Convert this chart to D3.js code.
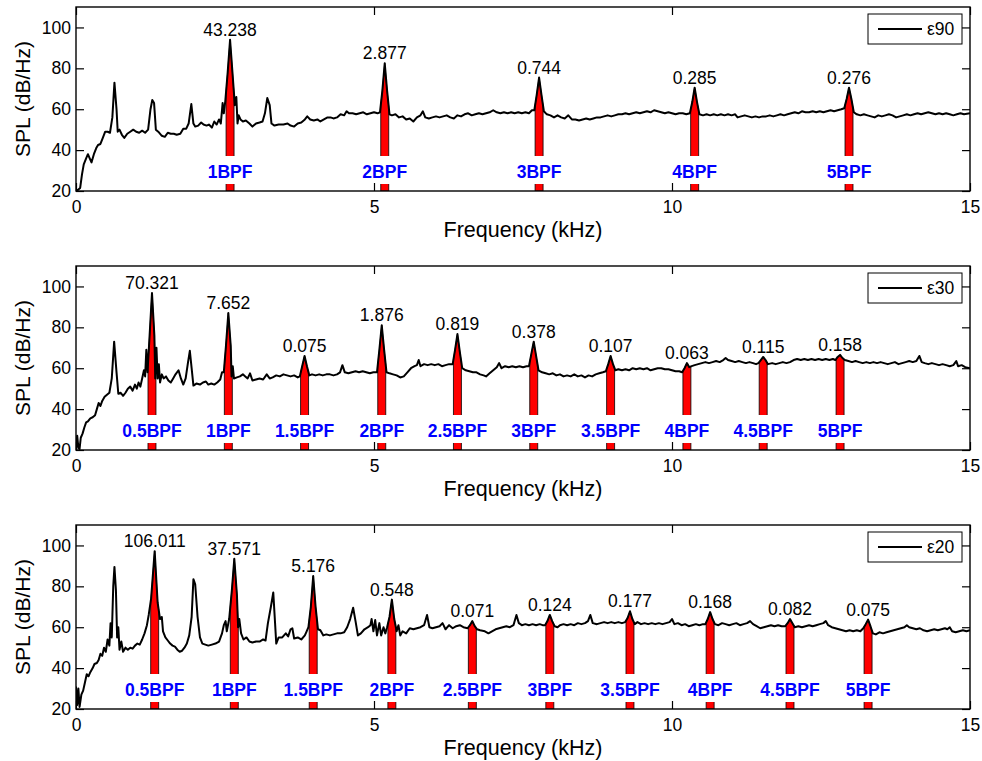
<!DOCTYPE html>
<html>
<head>
<meta charset="utf-8">
<script src="https://cdn.jsdelivr.net/npm/d3@7"></script>
<style>
  body { margin: 0; background: #fff; }
  text { font-family: Arial, "Liberation Sans", Helvetica, sans-serif; }
</style>
</head>
<body>
<div id="chart"></div>
<script>
// ---- data ----
const legendNames = ["ε90", "ε30", "ε20"];

const harmonics90 = ["1BPF", "2BPF", "3BPF", "4BPF", "5BPF"];
const harmonicsHalf = ["0.5BPF", "1BPF", "1.5BPF", "2BPF", "2.5BPF", "3BPF", "3.5BPF", "4BPF", "4.5BPF", "5BPF"];

const bpf90 = [2.585, 5.18, 7.77, 10.38, 12.97];
const bpf30 = [1.275, 2.556, 3.835, 5.13, 6.40, 7.68, 8.97, 10.25, 11.53, 12.82];
const bpf20 = [1.32, 2.656, 3.98, 5.30, 6.65, 7.95, 9.295, 10.64, 11.98, 13.29];

const peakText90 = ["43.238", "2.877", "0.744", "0.285", "0.276"];
const peakText30 = ["70.321", "7.652", "0.075", "1.876", "0.819", "0.378", "0.107", "0.063", "0.115", "0.158"];
const peakText20 = ["106.011", "37.571", "5.176", "0.548", "0.071", "0.124", "0.177", "0.168", "0.082", "0.075"];

const xTicks = [0, 5, 10, 15];
const yTicks = [20, 40, 60, 80, 100];

// [frequency kHz, SPL dB/Hz]
const spl90 = [[0.00,20],[0.03,20.5],[0.07,21.5],[0.10,28],[0.13,33],[0.17,36],[0.20,38],[0.23,36],[0.26,34],[0.30,38],[0.34,41],[0.37,42.5],[0.41,43],[0.45,46],[0.49,49],[0.53,49],[0.57,48.5],[0.61,56],[0.645,73],[0.68,60],[0.70,49],[0.73,50],[0.77,47.5],[0.81,46],[0.86,48],[0.91,49],[0.96,50],[1.01,49],[1.06,48.5],[1.11,49.5],[1.16,48.5],[1.21,50],[1.25,60],[1.28,64.5],[1.31,63],[1.34,50],[1.38,49],[1.44,47],[1.49,46.5],[1.54,48.5],[1.59,48],[1.64,48],[1.69,47.5],[1.75,48],[1.80,50.5],[1.85,50.5],[1.89,53],[1.935,62.5],[1.97,53],[2.00,51.5],[2.05,52],[2.10,53.5],[2.14,52.5],[2.19,52],[2.23,52.5],[2.28,51],[2.32,54],[2.36,52.5],[2.40,55],[2.43,53],[2.46,63],[2.48,58],[2.505,64],[2.545,78],[2.585,94],[2.625,78],[2.665,62],[2.69,66],[2.71,53],[2.73,57],[2.76,55],[2.80,54],[2.85,54.5],[2.91,53],[2.96,51.5],[3.02,53],[3.08,53.5],[3.13,54],[3.17,58],[3.21,65.5],[3.25,62],[3.28,53],[3.33,52],[3.40,52.5],[3.48,52.5],[3.55,53],[3.60,52],[3.66,51.5],[3.72,53],[3.78,53.5],[3.84,55],[3.88,56.5],[3.93,55],[3.99,54.5],[4.05,55],[4.10,54],[4.16,55],[4.22,56],[4.27,56],[4.32,55.5],[4.38,56],[4.44,57.5],[4.50,57],[4.54,59],[4.58,58],[4.64,58],[4.70,57.5],[4.76,58],[4.82,58.5],[4.88,57.5],[4.94,58],[5.00,58.5],[5.06,58],[5.10,58.5],[5.14,69],[5.18,82.5],[5.22,69],[5.26,57.5],[5.30,57],[5.36,57.5],[5.42,56],[5.48,56.5],[5.54,55],[5.60,55.5],[5.66,54],[5.72,56],[5.78,57],[5.82,59],[5.86,56],[5.92,55.5],[5.98,56],[6.04,56.5],[6.10,56],[6.16,56.5],[6.22,57],[6.28,56],[6.34,55.5],[6.40,57],[6.46,56.5],[6.52,57.5],[6.58,58],[6.64,57],[6.70,57.5],[6.76,58],[6.82,57.5],[6.88,58],[6.94,58.5],[7.00,59.5],[7.06,58.5],[7.12,58],[7.18,58.5],[7.24,58],[7.30,58.5],[7.36,58],[7.42,58.5],[7.48,58],[7.54,58.5],[7.60,58],[7.65,59.5],[7.69,59.5],[7.73,67],[7.77,75.5],[7.81,67],[7.85,59],[7.90,57.5],[7.96,57],[8.02,56],[8.08,57],[8.14,56],[8.20,55.5],[8.26,57],[8.32,55],[8.38,55],[8.44,54.5],[8.50,55],[8.56,55.5],[8.62,55],[8.68,55.5],[8.74,56],[8.80,56],[8.86,56.5],[8.92,57],[8.98,56.5],[9.04,57],[9.10,57.5],[9.16,57.5],[9.22,58],[9.28,57.5],[9.34,58],[9.40,58.5],[9.46,58],[9.52,58.5],[9.58,59],[9.64,58.5],[9.70,59.5],[9.76,59],[9.82,58.5],[9.88,58],[9.94,58.5],[10.00,58],[10.06,57.5],[10.12,58],[10.18,58],[10.24,57.5],[10.30,58],[10.34,63.5],[10.38,70.5],[10.42,63.5],[10.46,57.5],[10.52,57],[10.58,57.5],[10.64,57],[10.70,57.5],[10.76,57],[10.82,57.5],[10.88,57],[10.94,57.5],[11.00,57],[11.06,57.5],[11.10,56],[11.16,56.5],[11.22,57],[11.28,56.5],[11.34,56],[11.40,56.5],[11.46,56],[11.52,56.5],[11.58,56.5],[11.64,57],[11.70,56.5],[11.76,57],[11.82,57.5],[11.88,57],[11.94,57.5],[12.00,58],[12.06,58.5],[12.12,58],[12.18,59],[12.24,58.5],[12.30,58.5],[12.36,59],[12.42,58.5],[12.48,59],[12.54,58.5],[12.60,59],[12.66,59.5],[12.72,59],[12.78,59.5],[12.84,60],[12.89,60.5],[12.93,65],[12.97,70.5],[13.01,65],[13.05,58.5],[13.10,57.5],[13.16,57],[13.22,57.5],[13.28,57],[13.34,56.5],[13.40,56],[13.46,57],[13.52,56.5],[13.58,57],[13.64,57.5],[13.70,57],[13.76,56],[13.82,56.5],[13.88,57],[13.94,57.5],[14.00,57],[14.06,57.5],[14.12,58],[14.18,57.5],[14.24,58],[14.30,58.5],[14.36,58],[14.42,57.5],[14.48,58],[14.54,57.5],[14.60,58],[14.66,57.5],[14.72,57],[14.78,57.5],[14.84,58],[14.90,57.5],[15.00,58]];

const spl30 = [[0.00,20],[0.02,27],[0.04,21],[0.06,20.5],[0.08,26],[0.11,28],[0.14,31],[0.17,33.5],[0.20,34],[0.24,35.5],[0.28,36],[0.32,37],[0.35,40],[0.38,43],[0.41,41.5],[0.44,44],[0.48,46],[0.52,47],[0.56,48],[0.60,55],[0.64,73],[0.68,58],[0.71,47.5],[0.75,48],[0.79,46.5],[0.83,48],[0.87,50],[0.91,51],[0.95,49],[0.99,52],[1.02,50],[1.05,53],[1.08,51],[1.11,55],[1.14,59],[1.16,56],[1.18,69],[1.20,58],[1.235,76],[1.275,96.8],[1.315,76],[1.33,55],[1.35,70],[1.37,55],[1.39,62],[1.41,53],[1.44,57],[1.47,55],[1.51,56],[1.55,54],[1.59,53],[1.63,55],[1.67,57],[1.72,59],[1.76,55],[1.80,52],[1.84,55],[1.88,63],[1.91,68.5],[1.94,60],[1.97,51.5],[2.02,52.5],[2.08,52],[2.13,53],[2.18,53.5],[2.22,52],[2.27,52.5],[2.32,52],[2.37,53],[2.42,54.5],[2.45,58],[2.48,58],[2.516,71],[2.556,87],[2.596,71],[2.61,56],[2.63,61],[2.65,55],[2.70,55.5],[2.75,56],[2.80,57],[2.84,56],[2.88,55],[2.92,57.5],[2.96,54],[3.02,54.5],[3.08,55],[3.14,54.5],[3.20,57],[3.25,55],[3.30,55.5],[3.36,56.5],[3.42,56],[3.48,57],[3.54,56.5],[3.60,56],[3.66,56.5],[3.72,55.5],[3.755,56],[3.795,61],[3.835,66],[3.875,61],[3.915,56.5],[3.96,57],[4.02,56.5],[4.08,57],[4.14,56.5],[4.20,57],[4.26,57],[4.32,56.5],[4.38,57],[4.43,58],[4.47,61.5],[4.51,58],[4.57,57.5],[4.63,58],[4.69,58.5],[4.75,58],[4.81,58.5],[4.87,58],[4.93,57.5],[4.99,58],[5.05,58],[5.09,69],[5.13,81],[5.17,69],[5.21,58],[5.26,57.5],[5.32,57],[5.38,56.5],[5.44,55.5],[5.50,56],[5.56,58],[5.62,60],[5.68,61],[5.72,61.5],[5.75,64],[5.78,61],[5.84,62],[5.90,61.5],[5.96,62],[6.02,61.5],[6.08,62],[6.14,61],[6.20,61.5],[6.26,62],[6.32,62],[6.36,69],[6.40,76.7],[6.44,68],[6.48,60],[6.54,59],[6.60,58.5],[6.66,58],[6.72,58],[6.78,57],[6.84,56.5],[6.88,56],[6.94,57.5],[7.00,59],[7.06,60.5],[7.10,62.5],[7.14,60],[7.20,61],[7.26,60.5],[7.32,61],[7.38,60.5],[7.44,61],[7.50,60.5],[7.56,61],[7.60,61],[7.64,67],[7.68,73],[7.72,66],[7.76,59],[7.82,58],[7.88,57.5],[7.94,57],[8.00,57.5],[8.06,56.5],[8.12,57],[8.18,56],[8.24,56.5],[8.30,56],[8.36,57],[8.42,56],[8.48,56.5],[8.54,55.5],[8.60,56.5],[8.66,56],[8.72,57],[8.78,57.5],[8.84,58],[8.89,58.5],[8.93,62],[8.97,66],[9.01,62],[9.05,59],[9.10,59.5],[9.16,59],[9.22,59.5],[9.28,59],[9.34,60],[9.40,59.5],[9.46,60],[9.52,59.5],[9.58,60],[9.64,59],[9.70,59.5],[9.76,60],[9.82,60],[9.88,59.5],[9.94,59.5],[10.00,59],[10.06,58.5],[10.12,58.5],[10.17,58],[10.21,60],[10.25,62.5],[10.29,60.5],[10.33,61],[10.38,61.5],[10.44,62],[10.50,62.5],[10.56,63],[10.62,62.5],[10.68,63],[10.74,63.5],[10.80,63],[10.86,64],[10.90,65],[10.94,64],[11.00,63.5],[11.06,63],[11.12,63.5],[11.18,63],[11.24,62.5],[11.30,63],[11.36,62.5],[11.41,62],[11.45,62.5],[11.49,64],[11.53,65.5],[11.57,64],[11.61,62],[11.68,62.5],[11.74,62],[11.80,62.5],[11.86,63],[11.92,62.5],[11.98,63],[12.04,64],[12.10,64.5],[12.16,64],[12.22,64.5],[12.28,64],[12.34,64.5],[12.40,64],[12.46,64.5],[12.52,64],[12.58,64.5],[12.64,64],[12.70,64.5],[12.74,64],[12.78,65.5],[12.82,66.5],[12.86,65],[12.90,64],[12.96,63.5],[13.02,63],[13.08,63.5],[13.14,63],[13.20,62.5],[13.26,63],[13.32,62.5],[13.38,63],[13.44,62.5],[13.50,63],[13.56,62.5],[13.62,62],[13.68,62.5],[13.74,63],[13.80,62],[13.86,62.5],[13.92,63],[13.98,63.5],[14.04,63],[14.10,63.5],[14.15,66],[14.19,63],[14.24,62.5],[14.30,62],[14.36,62.5],[14.42,62],[14.48,61.5],[14.54,62],[14.60,61.5],[14.66,61],[14.72,61.5],[14.77,63.5],[14.80,61],[14.86,61.5],[14.92,60.5],[15.00,60]];

const spl20 = [[0.00,31],[0.02,22],[0.04,30],[0.06,21],[0.09,27],[0.12,29],[0.15,33],[0.18,37],[0.21,36],[0.24,38],[0.28,40],[0.31,42],[0.35,42.5],[0.38,44],[0.41,47],[0.44,46],[0.47,50],[0.50,48],[0.53,54],[0.56,51],[0.58,62],[0.60,55],[0.625,80],[0.645,89.5],[0.67,78],[0.69,55],[0.71,60],[0.73,49],[0.76,53],[0.79,48],[0.83,50],[0.87,49],[0.91,50],[0.95,49.5],[0.99,51],[1.03,52],[1.07,51.5],[1.11,54],[1.15,57],[1.19,61],[1.22,66],[1.26,74],[1.32,97.2],[1.37,72],[1.41,64],[1.44,65],[1.46,58],[1.50,55],[1.54,53.5],[1.58,52],[1.62,51],[1.66,50.5],[1.70,49],[1.74,48],[1.78,48.5],[1.82,50],[1.86,52],[1.90,56],[1.94,65],[1.97,83.5],[2.00,81],[2.04,65],[2.08,55],[2.12,52],[2.17,51.5],[2.22,51],[2.28,51.5],[2.34,52],[2.40,53],[2.45,57],[2.48,61],[2.51,63],[2.53,58],[2.57,64],[2.615,78],[2.656,93.5],[2.70,76],[2.72,60],[2.74,64],[2.77,57],[2.81,54],[2.86,55],[2.91,53],[2.96,52.5],[3.02,53],[3.08,53],[3.14,54],[3.18,53.5],[3.22,62],[3.27,70],[3.31,77],[3.34,62],[3.36,52],[3.40,55],[3.46,55],[3.52,57],[3.56,55.5],[3.60,59],[3.63,59.5],[3.66,54.5],[3.72,55],[3.78,54],[3.84,56],[3.87,58],[3.90,60],[3.94,70],[3.98,85],[4.02,70],[4.06,59],[4.10,58.5],[4.15,56],[4.20,56.5],[4.26,56],[4.32,56.5],[4.38,57],[4.44,57],[4.50,57.5],[4.55,60],[4.60,64],[4.65,69.5],[4.69,63],[4.73,56],[4.78,57],[4.84,59],[4.90,60],[4.94,61],[4.96,64],[4.99,58],[5.02,63.5],[5.05,56],[5.09,62],[5.12,56],[5.16,60],[5.19,57],[5.22,60],[5.26,65],[5.30,73.5],[5.34,64],[5.38,58],[5.41,61],[5.44,56],[5.48,58],[5.54,57],[5.60,59.5],[5.66,59],[5.72,59.5],[5.78,60],[5.84,61],[5.89,66],[5.93,60],[5.98,59.5],[6.04,60],[6.10,60.5],[6.15,62],[6.20,59],[6.26,61],[6.32,59.5],[6.38,60.5],[6.44,61],[6.50,60],[6.57,59.5],[6.61,61],[6.65,63],[6.69,60.5],[6.73,59],[6.78,58.5],[6.86,58],[6.92,57],[6.98,58],[7.04,59],[7.10,59.5],[7.16,60],[7.22,60.5],[7.28,60],[7.34,61],[7.39,66],[7.43,62],[7.48,61],[7.54,61.5],[7.60,61],[7.66,61.5],[7.72,61],[7.78,61.5],[7.83,61],[7.87,61],[7.91,63],[7.95,66],[7.99,63],[8.03,60.5],[8.08,60],[8.12,61],[8.18,61.5],[8.24,61],[8.30,61.5],[8.36,61],[8.42,62],[8.48,61.5],[8.54,62],[8.59,63],[8.63,66],[8.67,62],[8.74,61.5],[8.80,62],[8.86,62.5],[8.92,62],[8.98,62.5],[9.04,62],[9.10,62.5],[9.16,62],[9.215,62.5],[9.255,64.5],[9.295,67.8],[9.335,64],[9.375,61.5],[9.42,62.5],[9.48,61.5],[9.54,62],[9.60,61.5],[9.66,62],[9.72,61.5],[9.78,62],[9.84,61.5],[9.90,62],[9.96,62.5],[10.00,64],[10.04,61.5],[10.10,62],[10.16,61],[10.22,61.5],[10.28,60.5],[10.34,61],[10.40,61.5],[10.46,61],[10.52,61.5],[10.56,61.5],[10.60,64],[10.64,67.4],[10.68,64],[10.72,61.5],[10.78,61],[10.84,62],[10.90,61.5],[10.96,61],[11.02,61.5],[11.08,62],[11.14,61],[11.20,61.5],[11.26,62],[11.31,63],[11.36,61.5],[11.42,60.5],[11.48,59.5],[11.54,60],[11.60,60.5],[11.66,61],[11.72,60.5],[11.78,61],[11.84,60.5],[11.90,60.5],[11.94,62],[11.98,64],[12.02,62],[12.06,60],[12.12,60.5],[12.18,60],[12.24,60.5],[12.30,61],[12.36,60.5],[12.42,61],[12.48,61.5],[12.54,62],[12.58,63],[12.62,61],[12.68,60],[12.74,59.5],[12.80,59],[12.86,58.5],[12.92,58],[12.98,58.5],[13.04,58],[13.10,58.5],[13.16,58],[13.21,59.5],[13.25,61.5],[13.29,63.7],[13.33,60.5],[13.37,57],[13.42,56.5],[13.48,57.5],[13.54,57],[13.60,57.5],[13.66,58],[13.72,58.5],[13.78,59],[13.84,59.5],[13.90,60],[13.94,61],[13.98,60],[14.04,59.5],[14.10,59],[14.16,59.5],[14.22,58.5],[14.28,58],[14.34,58.5],[14.40,59],[14.46,58.5],[14.52,59],[14.58,59.5],[14.62,59],[14.66,60],[14.70,58],[14.76,57.5],[14.82,58],[14.88,58.5],[14.94,58],[15.00,58.5]];

const panels = [
  { name: legendNames[0], series: spl90, bpf: bpf90, labels: harmonics90, values: peakText90 },
  { name: legendNames[1], series: spl30, bpf: bpf30, labels: harmonicsHalf, values: peakText30 },
  { name: legendNames[2], series: spl20, bpf: bpf20, labels: harmonicsHalf, values: peakText20 }
];

// ---- layout ----
const W = 982, H = 761;
const plotLeft = 76, plotRight = 970, plotH = 184, panelStep = 259, firstTop = 7;
const halfBand = 0.067; // half width of the red band, kHz

const svg = d3.select("#chart").append("svg")
  .attr("width", W)
  .attr("height", H);

const x = d3.scaleLinear().domain([0, 15]).range([plotLeft, plotRight]);

function interp(series, f) {
  const i = d3.bisector(d => d[0]).left(series, f);
  if (i <= 0) return series[0][1];
  if (i >= series.length) return series[series.length - 1][1];
  const a = series[i - 1], b = series[i];
  return a[1] + (b[1] - a[1]) * (f - a[0]) / (b[0] - a[0]);
}

panels.forEach(function (p, i) {
  const top = firstTop + i * panelStep, bottom = top + plotH;
  const y = d3.scaleLinear().domain([20, 110]).range([bottom, top]);
  const g = svg.append("g");

  g.append("defs").append("clipPath")
    .attr("id", "clip" + i)
    .append("rect")
    .attr("x", plotLeft).attr("y", top)
    .attr("width", plotRight - plotLeft).attr("height", plotH);

  const plot = g.append("g").attr("clip-path", "url(#clip" + i + ")");

  // red bands under the blade passing peaks
  const area = d3.area()
    .x(d => x(d[0]))
    .y0(y(20))
    .y1(d => y(d[1]));

  p.bpf.forEach(function (f) {
    const lo = f - halfBand, hi = f + halfBand;
    const pts = [[lo, interp(p.series, lo)]]
      .concat(p.series.filter(d => d[0] > lo && d[0] < hi))
      .concat([[hi, interp(p.series, hi)]]);
    plot.append("path")
      .datum(pts)
      .attr("d", area)
      .attr("fill", "#ff0000")
      .attr("stroke", "#000")
      .attr("stroke-width", 0.8);
  });

  plot.append("path")
    .datum(p.series)
    .attr("fill", "none")
    .attr("stroke", "#000")
    .attr("stroke-width", 2)
    .attr("stroke-linejoin", "round")
    .attr("d", d3.line().x(d => x(d[0])).y(d => y(d[1])));

  // harmonic labels, white background over the red bands
  p.bpf.forEach(function (f, k) {
    const lg = g.append("g");
    const t = lg.append("text")
      .attr("x", x(f))
      .attr("y", bottom - 13)
      .attr("text-anchor", "middle")
      .style("font-size", "17.5px")
      .attr("font-weight", "bold")
      .attr("fill", "#0000ff")
      .text(p.labels[k]);
    const w = t.node().getComputedTextLength();
    lg.insert("rect", "text")
      .attr("x", x(f) - w / 2 - 2)
      .attr("y", bottom - 35)
      .attr("width", w + 4)
      .attr("height", 28)
      .attr("fill", "#fff");
  });

  // peak values
  p.bpf.forEach(function (f, k) {
    const peak = d3.max(p.series.filter(d => Math.abs(d[0] - f) < 0.02), d => d[1]);
    g.append("text")
      .attr("x", x(f))
      .attr("y", y(peak) - 4)
      .attr("text-anchor", "middle")
      .style("font-size", "17.5px")
      .attr("fill", "#000")
      .text(p.values[k]);
  });

  // axes (ticks inside, box all round)
  const tick = 8;
  const xb = g.append("g")
    .attr("transform", "translate(0," + bottom + ")")
    .call(d3.axisBottom(x).tickValues(xTicks).tickFormat(d3.format("d"))
      .tickSizeInner(-tick).tickSizeOuter(0).tickPadding(10));
  const xt = g.append("g")
    .attr("transform", "translate(0," + top + ")")
    .call(d3.axisTop(x).tickValues(xTicks).tickFormat("")
      .tickSizeInner(-tick).tickSizeOuter(0));
  const yl = g.append("g")
    .attr("transform", "translate(" + plotLeft + ",0)")
    .call(d3.axisLeft(y).tickValues(yTicks).tickFormat(d3.format("d"))
      .tickSizeInner(-tick).tickSizeOuter(0).tickPadding(5));
  const yr = g.append("g")
    .attr("transform", "translate(" + plotRight + ",0)")
    .call(d3.axisRight(y).tickValues(yTicks).tickFormat("")
      .tickSizeInner(-tick).tickSizeOuter(0));

  [xb, xt, yl, yr].forEach(function (a) {
    a.select(".domain").remove();
    a.attr("font-family", null);
    a.selectAll(".tick line").attr("stroke", "#000").attr("stroke-width", 1.2);
    a.selectAll(".tick text").attr("fill", "#000").style("font-size", "17.5px");
  });

  g.append("rect")
    .attr("x", plotLeft).attr("y", top)
    .attr("width", plotRight - plotLeft).attr("height", plotH)
    .attr("fill", "none")
    .attr("stroke", "#000")
    .attr("stroke-width", 1.4);

  // axis titles
  g.append("text")
    .attr("x", (plotLeft + plotRight) / 2)
    .attr("y", bottom + 46)
    .attr("text-anchor", "middle")
    .style("font-size", "21.5px")
    .attr("fill", "#000")
    .text("Frequency (kHz)");

  g.append("text")
    .attr("transform", "translate(30," + ((top + bottom) / 2) + ") rotate(-90)")
    .attr("text-anchor", "middle")
    .style("font-size", "21px")
    .attr("fill", "#000")
    .text("SPL (dB/Hz)");

  // legend
  const lx = plotRight - 102, ly = top + 7;
  g.append("rect")
    .attr("x", lx).attr("y", ly)
    .attr("width", 94).attr("height", 30)
    .attr("fill", "#fff")
    .attr("stroke", "#000")
    .attr("stroke-width", 1);
  g.append("line")
    .attr("x1", lx + 10).attr("x2", lx + 54)
    .attr("y1", ly + 15).attr("y2", ly + 15)
    .attr("stroke", "#000")
    .attr("stroke-width", 2);
  g.append("text")
    .attr("x", lx + 59)
    .attr("y", ly + 21)
    .style("font-size", "17.5px")
    .attr("fill", "#000")
    .text(p.name);
});
</script>
</body>
</html>
